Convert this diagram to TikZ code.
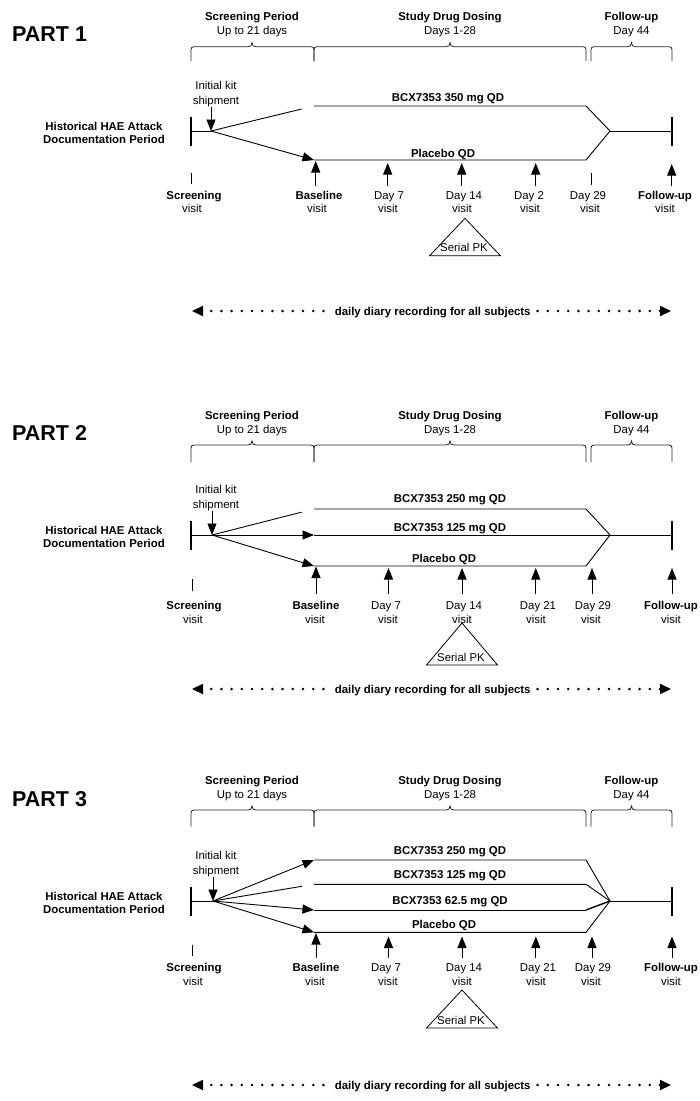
\documentclass[tikz,border=0pt]{standalone}
\usepackage{fontspec}
\setmainfont{Liberation Sans}
\usetikzlibrary{arrows.meta,calc}
\newcommand\sm{\fontsize{11.4}{13.3}\selectfont}
\tikzset{
 cc/.style={inner sep=0pt, text height=8.1pt, text depth=0pt, anchor=center},
 txt/.style={cc, font=\sm},
 btxt/.style={cc, font=\sm\bfseries},
 ln/.style={line width=0.9pt},
 arr/.style={line width=0.9pt, -{Triangle[length=11.5pt 0 0,width=9pt 0 0]}},
 bar/.style={line width=1.5pt},
 brc/.style={line width=0.8pt, black!85},
 diarydots/.style={line width=2.8pt, line cap=round, dash pattern=on 0pt off 10.2pt, dash phase=2pt,
   {Triangle[length=11pt 0 0,width=10.5pt 0 0,line width=0pt]}-{Triangle[length=11pt 0 0,width=10.5pt 0 0,line width=0pt]}},
 partlbl/.style={inner sep=0pt, anchor=west, text height=15.4pt, text depth=0pt, font=\fontsize{21.5}{24}\selectfont\bfseries},
}
% brace: x1 x2 tip B legbottom
\newcommand\hbr[5]{%
 \draw[brc] (#1,#5) -- (#1,#4+3) .. controls (#1,#4+1) and (#1+1,#4) .. (#1+3,#4) -- (#3-4,#4)
   .. controls (#3-1.5,#4) and (#3,#4-1) .. (#3,#4-4) .. controls (#3,#4-1) and (#3+1.5,#4) .. (#3+4,#4)
   -- (#2-3,#4) .. controls (#2-1,#4) and (#2,#4+1) .. (#2,#4+3) -- (#2,#5);}
% headers: prefix, title y, brace top, leg bottom
\newcommand\headers[4]{%
 \node[btxt] (#1sh) at (252,#2) {Screening Period};
 \node[txt] (#1sd) at (252,#2+14) {Up to 21 days};
 \node[btxt] (#1dh) at (450,#2) {Study Drug Dosing};
 \node[txt] (#1dd) at (450,#2+14) {Days 1-28};
 \node[btxt] (#1fh) at (631.5,#2) {Follow-up};
 \node[txt] (#1fd) at (631.5,#2+14) {Day 44};
 \hbr{191}{314}{252}{#3}{#4}
 \hbr{314}{586}{450}{#3}{#4}
 \hbr{591}{672}{631.5}{#3}{#4}}
% left block: prefix, centre y, fan x
\newcommand\leftblock[3]{%
 \node[btxt] (#1h1) at (104,#2-5) {Historical HAE Attack};
 \node[btxt] (#1h2) at (104,#2+8) {Documentation Period};
 \coordinate (#1bt) at (191,#2-14); \coordinate (#1bb) at (191,#2+15);
 \draw[bar] (#1bt) -- (#1bb);
 \coordinate (#1s) at (191,#2); \coordinate (#1f) at (#3,#2);
 \draw[ln] (#1s) -- (#1f);
 \node[txt] (#1k1) at (216,#2-46) {Initial kit};
 \node[txt] (#1k2) at (216,#2-31) {shipment};
 \coordinate (#1ka) at (#3,#2-24);
 \draw[arr] (#1ka) -- (#1f);
 \coordinate (#1m) at (610,#2); \coordinate (#1e) at (672,#2);
 \draw[ln] (#1m) -- (#1e);
 \coordinate (#1et) at (672,#2-14); \coordinate (#1eb) at (672,#2+15);
 \draw[bar] (#1et) -- (#1eb);}
% visit row (parts 2,3): prefix, tip, bottom, baseline tip, lab1, lab2, tick top, tick bottom
\newcommand\visitrow[8]{%
 \coordinate (#1st) at (192,#7); \coordinate (#1sb) at (192,#8); \draw[ln] (#1st) -- (#1sb);
 \foreach \nm/\xx/\tp in {b/316/#4, d7/388.5/#2, d14/462/#2, d21/535.8/#2, d29/592/#2, fu/672/#2} {
   \coordinate (#1\nm-b) at (\xx,#3); \coordinate (#1\nm-t) at (\xx,\tp); \draw[arr] (#1\nm-b) -- (#1\nm-t);}
 \node[btxt] (#1ls) at (194,#5) {Screening}; \node[txt] (#1lsv) at (193,#6) {visit};
 \node[btxt] (#1lb) at (316,#5) {Baseline}; \node[txt] (#1lbv) at (315,#6) {visit};
 \node[txt] (#1l7) at (386,#5) {Day 7}; \node[txt] (#1l7v) at (388,#6) {visit};
 \node[txt] (#1l14) at (464,#5) {Day 14}; \node[txt] (#1l14v) at (462,#6) {visit};
 \node[txt] (#1l21) at (538,#5) {Day 21}; \node[txt] (#1l21v) at (536,#6) {visit};
 \node[txt] (#1l29) at (593,#5) {Day 29}; \node[txt] (#1l29v) at (591,#6) {visit};
 \node[btxt] (#1lf) at (671,#5) {Follow-up}; \node[txt] (#1lfv) at (671,#6) {visit};}
% serial PK triangle: prefix, apex x, apex y, base y, half width, text y
\newcommand\pktri[6]{%
 \coordinate (#1ta) at (#2,#3); \coordinate (#1tl) at (#2-#5,#4); \coordinate (#1tr) at (#2+#5,#4);
 \draw[line width=0.8pt] (#1ta) -- (#1tr) -- (#1tl) -- cycle;
 \node[txt] (#1pk) at (#2-1,#6) {Serial PK};}
% diary row: prefix, y
\newcommand\diary[2]{%
 \coordinate (#1dl) at (192,#2); \coordinate (#1dr) at (671,#2);
 \draw[diarydots] (#1dl) -- (#1dr);
 \node[btxt, fill=white, inner xsep=5pt] (#1dt) at (432.7,#2) {daily diary recording for all subjects};}

\begin{document}
\begin{tikzpicture}[x=1pt,y=-1pt]
\useasboundingbox (0,0) rectangle (700,1101);

%================ PART 1
\node[partlbl] (p1) at (12,34) {PART 1};
\headers{p1}{16}{46.7}{61}
\leftblock{p1}{131}{211}
\coordinate (p1a0) at (314,106); \coordinate (p1a1) at (586,106);
\coordinate (p1c0) at (314,160); \coordinate (p1c1) at (586,160);
\draw[ln] (p1f) -- ($(p1f)!0.88!(p1a0)$);
\draw[arr] (p1f) -- (p1c0);
\draw[ln] (p1a0) -- (p1a1) -- (p1m) -- (p1c1) -- (p1c0);
\node[btxt] (p1l1) at (448,97) {BCX7353 350 mg QD};
\node[btxt] (p1l2) at (443,153) {Placebo QD};
\coordinate (p1st) at (191,172.7); \coordinate (p1sb) at (191,184); \draw[ln] (p1st) -- (p1sb);
\coordinate (p1xt) at (591,173); \coordinate (p1xb) at (591,185); \draw[ln] (p1xt) -- (p1xb);
\foreach \nm/\xx/\tp in {b/315.7/161, d7/387.7/163, d14/461.7/163, d21/535.7/163, fu/671.7/164} {
  \coordinate (p1\nm-b) at (\xx,185.5); \coordinate (p1\nm-t) at (\xx,\tp); \draw[arr] (p1\nm-b) -- (p1\nm-t);}
\node[btxt] (p1ls) at (194,195) {Screening}; \node[txt] (p1lsv) at (192,208.3) {visit};
\node[btxt] (p1lb) at (319,195) {Baseline}; \node[txt] (p1lbv) at (317,208.3) {visit};
\node[txt] (p1l7) at (389,195) {Day 7}; \node[txt] (p1l7v) at (388,208.3) {visit};
\node[txt] (p1l14) at (464,195) {Day 14}; \node[txt] (p1l14v) at (462,208.3) {visit};
\node[txt] (p1l21) at (529,195) {Day 2}; \node[txt] (p1l21v) at (530,208.3) {visit};
\node[txt] (p1l29) at (588,195) {Day 29}; \node[txt] (p1l29v) at (590,208.3) {visit};
\node[btxt] (p1lf) at (665,195) {Follow-up}; \node[txt] (p1lfv) at (665,208.3) {visit};
\pktri{p1}{465}{218.3}{255.7}{35.4}{247.5}
\diary{p1}{311}

%================ PART 2
\node[partlbl] (p2) at (12,433) {PART 2};
\headers{p2}{415}{445}{462}
\leftblock{p2}{535}{212}
\coordinate (p2a0) at (314,509); \coordinate (p2a1) at (586,509);
\coordinate (p2b0) at (314,535);
\coordinate (p2c0) at (314,566); \coordinate (p2c1) at (586,566);
\draw[ln] (p2f) -- ($(p2f)!0.88!(p2a0)$);
\draw[arr] (p2f) -- (p2b0);
\draw[arr] (p2f) -- (p2c0);
\draw[ln] (p2a0) -- (p2a1) -- (p2m) -- (p2c1) -- (p2c0);
\draw[ln] (p2b0) -- (p2m);
\node[btxt] (p2l1) at (450,498.5) {BCX7353 250 mg QD};
\node[btxt] (p2l2) at (450,527) {BCX7353 125 mg QD};
\node[btxt] (p2l3) at (444,558) {Placebo QD};
\visitrow{p2}{568}{594}{566.5}{605}{619.5}{579}{591}
\pktri{p2}{462}{623}{665}{35.5}{657}
\diary{p2}{689}

%================ PART 3
\node[partlbl] (p3) at (12,799) {PART 3};
\headers{p3}{780}{810}{826.7}
\leftblock{p3}{901}{213}
\coordinate (p3a0) at (314,860); \coordinate (p3a1) at (586,860);
\coordinate (p3b0) at (314,884.3); \coordinate (p3b1) at (586,884.3);
\coordinate (p3g0) at (314,910); \coordinate (p3g1) at (586,910);
\coordinate (p3c0) at (314,932.3); \coordinate (p3c1) at (586,932.3);
\draw[arr] (p3f) -- (p3a0);
\draw[ln] (p3f) -- ($(p3f)!0.88!(p3b0)$);
\draw[arr] (p3f) -- (p3g0);
\draw[arr] (p3f) -- (p3c0);
\draw[ln] (p3a0) -- (p3a1) -- (p3m) -- (p3c1) -- (p3c0);
\draw[ln] (p3b0) -- (p3b1) -- (p3m);
\draw[ln] (p3g0) -- (p3g1);
\draw[line width=1.4pt] (p3g1) -- (p3m);
\node[btxt] (p3l1) at (450,850) {BCX7353 250 mg QD};
\node[btxt] (p3l2) at (450,874.3) {BCX7353 125 mg QD};
\node[btxt] (p3l3) at (450,900) {BCX7353 62.5 mg QD};
\node[btxt] (p3l4) at (444,924.3) {Placebo QD};
\visitrow{p3}{936.5}{958}{933}{967}{981.5}{945}{956}
\pktri{p3}{462}{990}{1028}{35.5}{1020}
\diary{p3}{1085}
\end{tikzpicture}
\end{document}
